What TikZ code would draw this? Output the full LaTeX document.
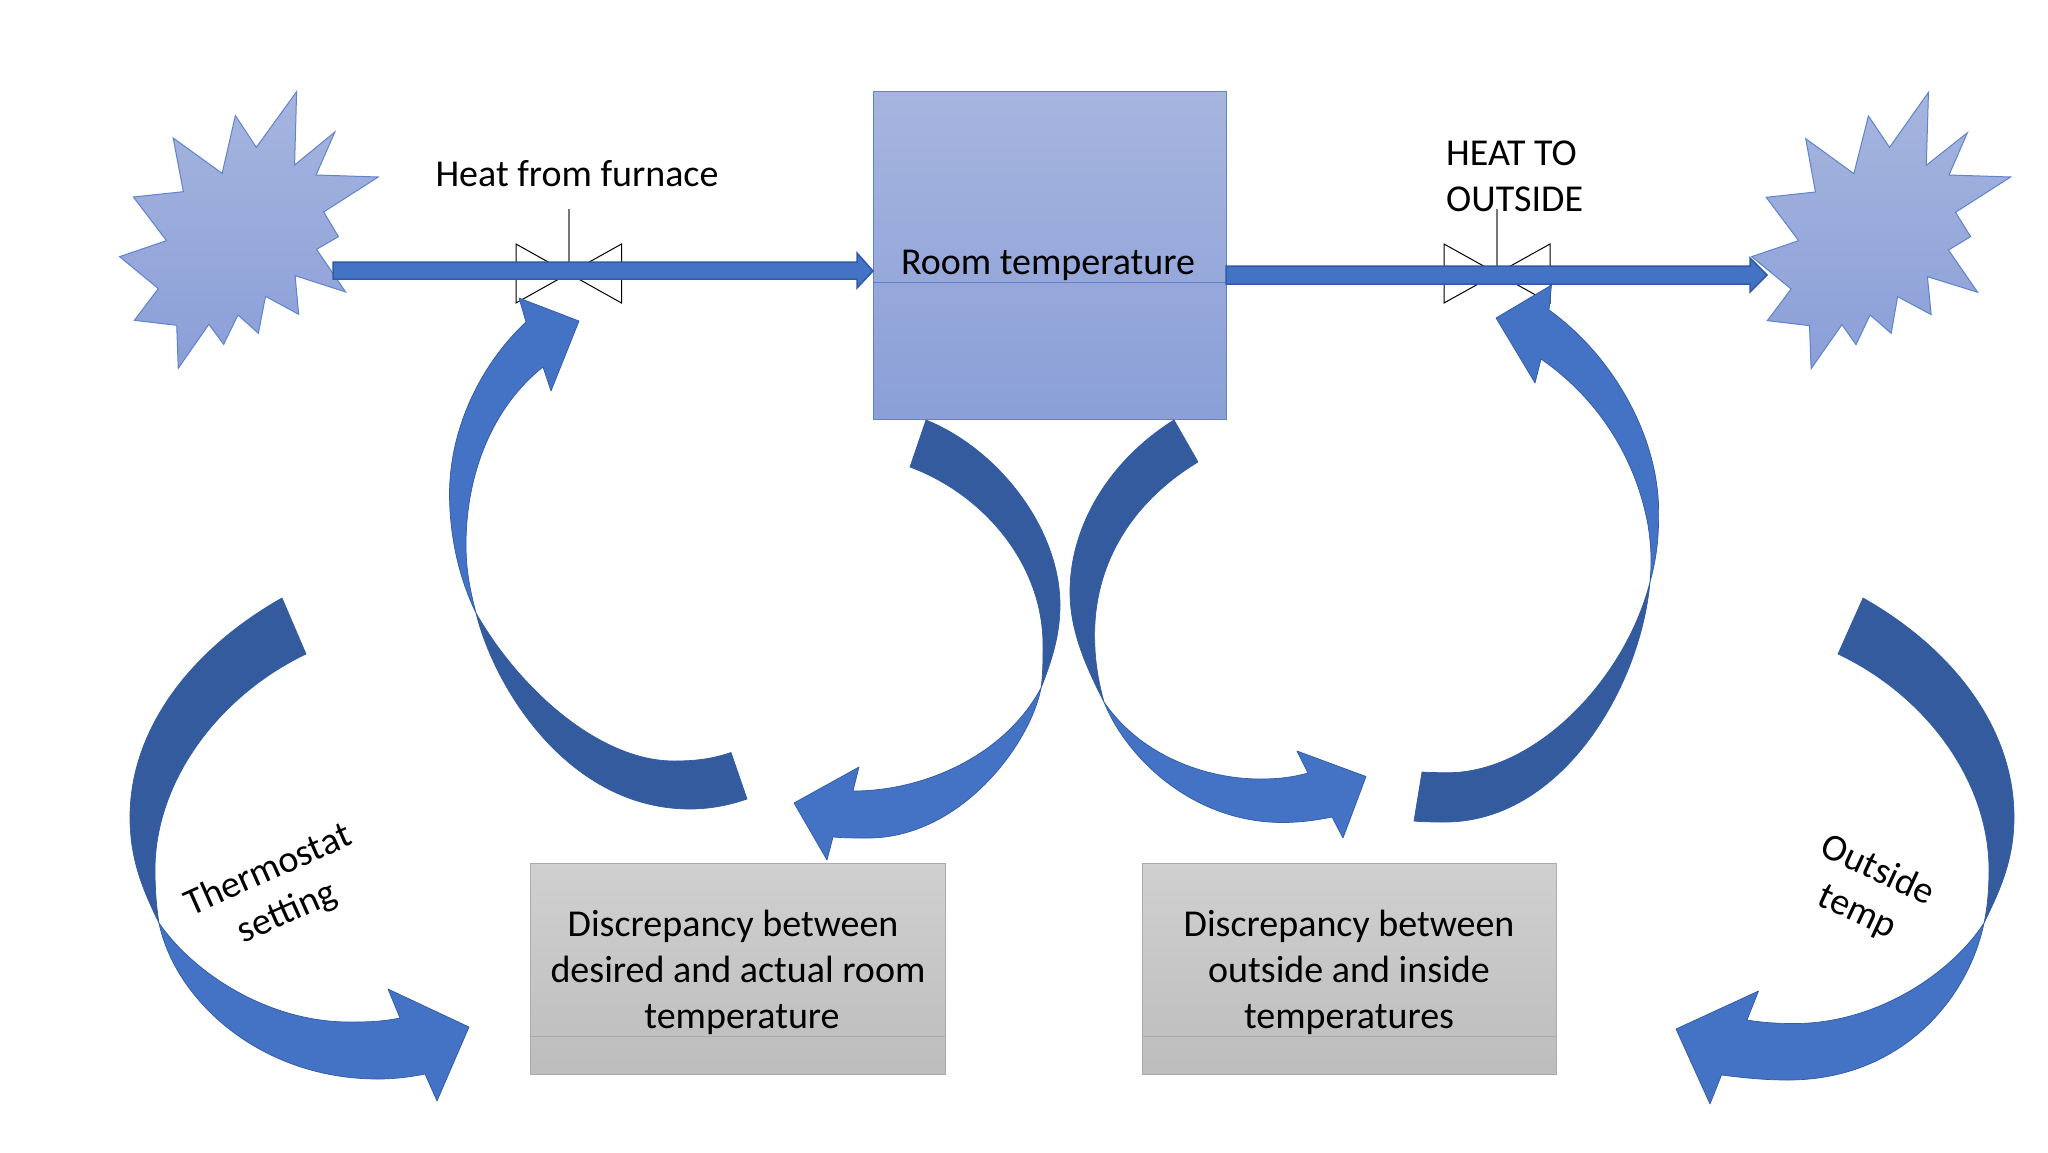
\documentclass[tikz,border=0pt]{standalone}
\usepackage{fontspec}
\setmainfont{Carlito}
\begin{document}
\begin{tikzpicture}[x=1pt,y=-1pt,
  lbl/.style={inner sep=0pt,text=black,font=\fontsize{38}{46}\selectfont,align=center},
  rotlbl/.style={inner sep=0pt,text=black,font=\fontsize{38}{46}\selectfont},
  burst/.style={draw=starline,line width=1pt,line join=miter,top color=startop,bottom color=starbot},
  flow/.style={fill=flowblue,draw=flowline,line width=1.5pt},
  armlight/.style={fill=flowblue,draw=flowline,line width=.7pt,line join=round},
  armdark/.style={fill=armdeep,draw=flowline,line width=.7pt,line join=round},
  greybox/.style={draw=boxline,line width=1pt,top color=boxtop,bottom color=boxbot},
  valve/.style={draw=black,line width=1pt,line join=miter},
  stem/.style={draw=stemgrey,line width=2pt}]
\definecolor{startop}{HTML}{A6B5DF}\definecolor{starbot}{HTML}{8B9FD8}
\definecolor{starline}{HTML}{5F83CC}
\definecolor{flowblue}{HTML}{4472C4}\definecolor{flowline}{HTML}{2F5BA5}
\definecolor{armdeep}{HTML}{345B9E}
\definecolor{boxtop}{HTML}{D0D0D0}\definecolor{boxbot}{HTML}{BDBDBD}\definecolor{boxline}{HTML}{ABABAB}
\definecolor{stemgrey}{HTML}{777777}
\useasboundingbox (0,0) rectangle (2048,1152);
\fill[white] (0,0) rectangle (2048,1152);
% bursts
\begin{scope}[shift={(90,60)},x=0.5102pt,y=-0.3333pt]
\draw[burst] (405,95)--(401,315)--(480,216)--(443,345)--(565,351)--(458,456)--(487,530)--(444,568)--(501,696)--(402,647)--(409,763)--(344,709)--(330,820)--(290,765)--(262,853)--(233,793)--(173,925)--(170,796)--(87,781)--(134,686)--(58,590)--(150,542)--(85,411)--(183,395)--(163,234)--(259,340)--(285,167)--(326,262)--cycle;
\end{scope}
\begin{scope}[shift={(1200,60)},x=0.5408pt,y=-0.3333pt]
\draw[burst] (1347,97)--(1343,316)--(1419,218)--(1385,345)--(1499,351)--(1397,457)--(1425,530)--(1384,570)--(1438,697)--(1345,650)--(1352,764)--(1290,710)--(1278,820)--(1239,765)--(1213,854)--(1187,794)--(1130,926)--(1127,797)--(1049,782)--(1093,687)--(1020,590)--(1107,542)--(1047,412)--(1138,396)--(1120,236)--(1209,341)--(1236,168)--(1275,262)--cycle;
\end{scope}
% room
\path[draw=starline,line width=1pt,top color=startop,bottom color=starbot] (873.5,91.5) rectangle (1226,419.5);
\draw[draw=starline,line width=.8pt] (873.5,282) -- (1226,282);
% valves
\coordinate (v1top) at (568.5,209); \coordinate (v1mid) at (568.5,262);
\coordinate (v2top) at (1497,209); \coordinate (v2mid) at (1497,266);
\draw[valve] (516,244) -- (621.5,303) -- (621.5,244) -- (516,303) -- cycle;
\draw[valve] (1444,244) -- (1550,303) -- (1550,244) -- (1444,303) -- cycle;
\draw[stem] (v1top) -- (v1mid);
\draw[stem] (v2top) -- (v2mid);
% flow arrows
\draw[flow] (333,262) -- (857,262) -- (857,253) -- (873,271) -- (857,288) -- (857,279) -- (333,279) -- cycle;
\draw[flow] (1226,266) -- (1750,266) -- (1750,258) -- (1767,275) -- (1750,292) -- (1750,284) -- (1226,284) -- cycle;
% arm A : furnace valve
\draw[armdark] (476,613) .. controls (495,690) and (570,809) .. (690,809) .. controls (710,809) and (730,805) .. (747,799) -- (731,752.5) .. controls (712,759) and (695,761) .. (674,761) .. controls (600,761) and (520,690) .. (476,613) -- cycle;
\draw[armlight] (519,298) -- (526,322) .. controls (480,365) and (449,430) .. (449.5,496) .. controls (450,540) and (460,580) .. (476,613) .. controls (470,590) and (466,570) .. (466,545) .. controls (466,470) and (495,405) .. (543,367) -- (551,391) -- (579,321) -- cycle;
% arm B : room to left box
\draw[armdark] (926,420) .. controls (1000,450) and (1060,530) .. (1060,605) .. controls (1060,635) and (1052,660) .. (1041,688) .. controls (1043,675) and (1043,660) .. (1043,645) .. controls (1043,565) and (985,495) .. (910,467) -- cycle;
\draw[armlight] (1041,688) .. controls (1030,745) and (960,838) .. (868,838) .. controls (855,838) and (845,838) .. (833,837) -- (827,860) -- (794,803) -- (859,767) -- (853,791) .. controls (925,791) and (1005,755) .. (1041,688) -- cycle;
% arm C : thermostat
\draw[armdark] (282,598) .. controls (190,650) and (130,730) .. (130,817) .. controls (130,860) and (143,890) .. (159,923) .. controls (156,905) and (155,885) .. (155,870) .. controls (155,780) and (220,695) .. (306,654) -- cycle;
\draw[armlight] (159,923) .. controls (175,1000) and (260,1079) .. (378,1079) .. controls (395,1079) and (410,1077) .. (425,1074) -- (437,1101) -- (469,1027) -- (388,989) -- (400,1018) .. controls (380,1022) and (365,1022) .. (349,1022) .. controls (270,1022) and (195,975) .. (159,923) -- cycle;
% arm D : outside temp
\draw[armdark] (1863,598) .. controls (1955,650) and (2014,730) .. (2014,817) .. controls (2014,860) and (2000,890) .. (1984,923) .. controls (1988,905) and (1989,885) .. (1989,870) .. controls (1989,780) and (1925,695) .. (1838,654) -- cycle;
\draw[armlight] (1984,923) .. controls (1968,1000) and (1900,1080) .. (1788,1080) .. controls (1765,1080) and (1745,1078) .. (1721.5,1075) -- (1710,1104) -- (1676,1029) -- (1758.5,991) -- (1747,1020) .. controls (1765,1023) and (1780,1023.5) .. (1795,1023.5) .. controls (1875,1023.5) and (1950,975) .. (1984,923) -- cycle;
% arm E : room to right box
\draw[armdark] (1174,420) .. controls (1110,460) and (1070,525) .. (1070,592) .. controls (1070,630) and (1085,665) .. (1104,702) .. controls (1098,680) and (1094.6,660) .. (1094.6,635) .. controls (1094.6,560) and (1135,500) .. (1198,462) -- cycle;
\draw[armlight] (1104,702) .. controls (1125,755) and (1190,822) .. (1282,822.5) .. controls (1300,822.5) and (1318,820) .. (1332,817) -- (1343,838) -- (1366,776.5) -- (1297,751) -- (1308,773) .. controls (1290,778) and (1275,779) .. (1260,779) .. controls (1205,779) and (1140,755) .. (1104,702) -- cycle;
% arm F : right box to outlet valve
\draw[armdark] (1650,582) .. controls (1640,690) and (1560,822) .. (1445,822) .. controls (1435,822) and (1425,822) .. (1414,821) -- (1422,772) .. controls (1430,772.5) and (1440,772.7) .. (1448,772.7) .. controls (1535,772.7) and (1625,680) .. (1650,582) -- cycle;
\draw[armlight] (1551.5,285) -- (1549,310) .. controls (1612,355) and (1658,435) .. (1658.6,510) .. controls (1659,540) and (1656,560) .. (1650,582) .. controls (1652,560) and (1651,545) .. (1648,525) .. controls (1636,460) and (1600,400) .. (1541,359) -- (1535,383) -- (1496,318) -- cycle;
% grey boxes
\draw[greybox] (530.5,863) rectangle (945,1074.5);
\draw[boxline,line width=1pt] (530.5,1036) -- (945,1036);
\draw[greybox] (1142,863) rectangle (1556,1074.5);
\draw[boxline,line width=1pt] (1142,1036) -- (1556,1036);
% labels
\node[lbl] (furnace) at (577,174) {Heat from furnace};
\node[lbl] (roomtext) at (1048,265) {Room temperature};
\node[lbl,align=left,anchor=west] (outlet) at (1446,176) {HEAT TO\\OUTSIDE};
\node[lbl] (gap1) at (738,972) {\hspace*{-10pt}Discrepancy between\\desired and actual room\\\hspace*{8pt}temperature};
\node[lbl] (gap2) at (1349,972) {Discrepancy between\\outside and inside\\temperatures};
\node[rotlbl,align=center,rotate=24] (thermo) at (278,892) {Thermostat\\setting};
\node[rotlbl,align=left,rotate=-25] (outside) at (1868,892) {Outside\\\hspace*{18pt}temp};
\end{tikzpicture}
\end{document}
